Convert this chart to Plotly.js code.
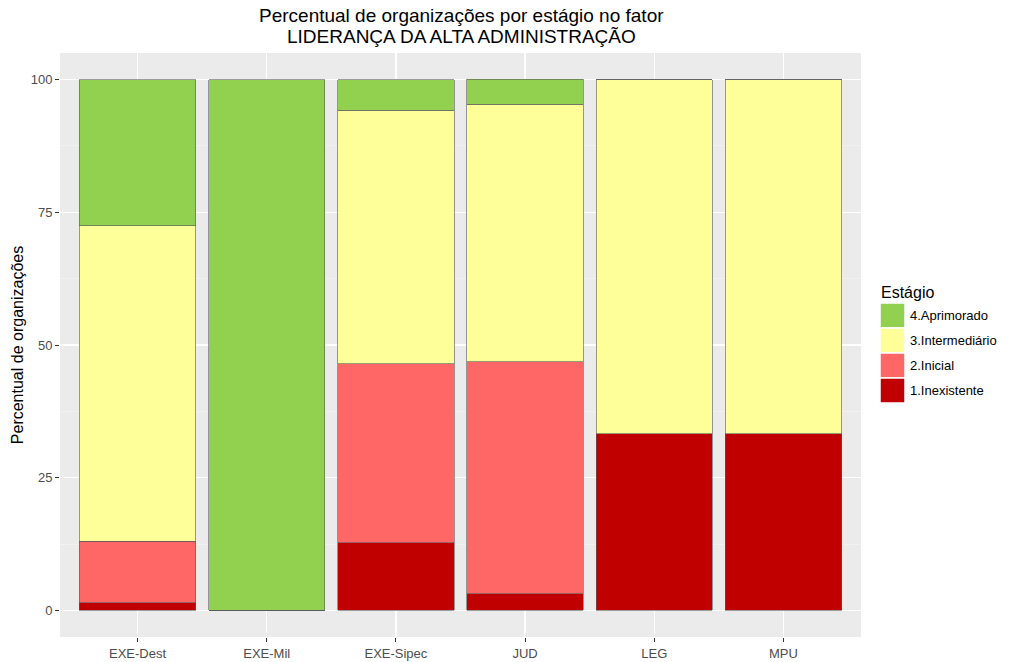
<!DOCTYPE html>
<html><head><meta charset="utf-8">
<script src="https://cdn.plot.ly/plotly-3.0.1.min.js"></script>
<style>body{margin:0;background:#fff}#chart{width:1024px;height:662px}</style>
</head><body><div id="chart"></div>
<script>
const categories = ["EXE-Dest","EXE-Mil","EXE-Sipec","JUD","LEG","MPU"];
const stages = ["1.Inexistente","2.Inicial","3.Intermediário","4.Aprimorado"];
const inexistente   = [1.45, 0, 12.79, 3.13, 33.33, 33.33];
const inicial       = [11.59, 0, 33.72, 43.75, 0, 0];
const intermediario = [59.42, 0, 47.67, 48.44, 66.67, 66.67];
const aprimorado    = [27.54, 100, 5.81, 4.69, 0, 0];
const colors = ["#C00000","#FF6666","#FFFF99","#92D050"];
const yTicks = [0,25,50,75,100];

const series = [inexistente, inicial, intermediario, aprimorado];
const traces = series.map((vals,i)=>({
  type:"bar", x:categories, y:vals, name:stages[i],
  marker:{color:colors[i], line:{color:"#5a5a5a", width:0.6}},
  showlegend:false, hoverinfo:"x+y+name"
}));

const PL = 60, PT = 53, PW = 801, PH = 584;
const px = x => (x-PL)/PW;
const py = y => 1-(y-PT)/PH;

// custom ggplot-like legend
const shapes = [];
const annotations = [];
const legendOrder = [3,2,1,0];
const keyX0 = 880, keyW = 25, keyH = 25, keyY0 = 303;
legendOrder.forEach((si,k)=>{
  const y0 = keyY0 + k*keyH;
  shapes.push({type:"rect", xref:"paper", yref:"paper",
    x0:px(keyX0), x1:px(keyX0+keyW), y0:py(y0+keyH), y1:py(y0),
    fillcolor:colors[si], line:{color:"#ffffff", width:1.5}});
  annotations.push({xref:"paper", yref:"paper", x:px(keyX0+keyW+3), y:py(y0+keyH/2),
    text:stages[si], showarrow:false, xanchor:"left", yanchor:"middle",
    font:{size:13, color:"#000"}});
});
annotations.push({xref:"paper", yref:"paper", x:px(keyX0-1), y:py(292),
  text:"Estágio", showarrow:false, xanchor:"left", yanchor:"middle", font:{size:16,color:"#000"}});
annotations.push({xref:"paper", yref:"paper", x:px(461), y:py(15),
  text:"Percentual de organizações por estágio no fator",
  showarrow:false, xanchor:"center", yanchor:"middle", font:{size:19,color:"#000"}});
annotations.push({xref:"paper", yref:"paper", x:px(461), y:py(37),
  text:"LIDERANÇA DA ALTA ADMINISTRAÇÃO",
  showarrow:false, xanchor:"center", yanchor:"middle", font:{size:19,color:"#000"}});

const layout = {
  width:1024, height:662,
  margin:{l:PL, r:1024-PL-PW, t:PT, b:662-PT-PH, pad:0},
  paper_bgcolor:"#fff", plot_bgcolor:"#EBEBEB",
  font:{family:"Liberation Sans, Arial, sans-serif", color:"#000"},
  barmode:"stack", bargap:0.1,
  xaxis:{range:[-0.6,5.6], showgrid:true, gridcolor:"#fff", gridwidth:1.2,
    ticks:"outside", ticklen:4, tickcolor:"#333", tickwidth:1,
    tickfont:{size:13, color:"#4D4D4D"}, zeroline:false, showline:false, fixedrange:true},
  yaxis:{range:[-5,105], tickvals:yTicks, ticktext:yTicks.map(String),
    showgrid:true, gridcolor:"#fff", gridwidth:1.2,
    minor:{tickvals:[12.5,37.5,62.5,87.5], showgrid:true, gridcolor:"#F5F5F5", gridwidth:0.6, ticks:""},
    ticks:"outside", ticklen:4, tickcolor:"#333", tickwidth:1,
    tickfont:{size:13, color:"#4D4D4D"}, zeroline:false, showline:false,
    title:{text:"Percentual de organizações", font:{size:16,color:"#000"}, standoff:3}},
  shapes:shapes, annotations:annotations
};
Plotly.newPlot("chart", traces, layout, {displayModeBar:false, staticPlot:true});
</script></body></html>
